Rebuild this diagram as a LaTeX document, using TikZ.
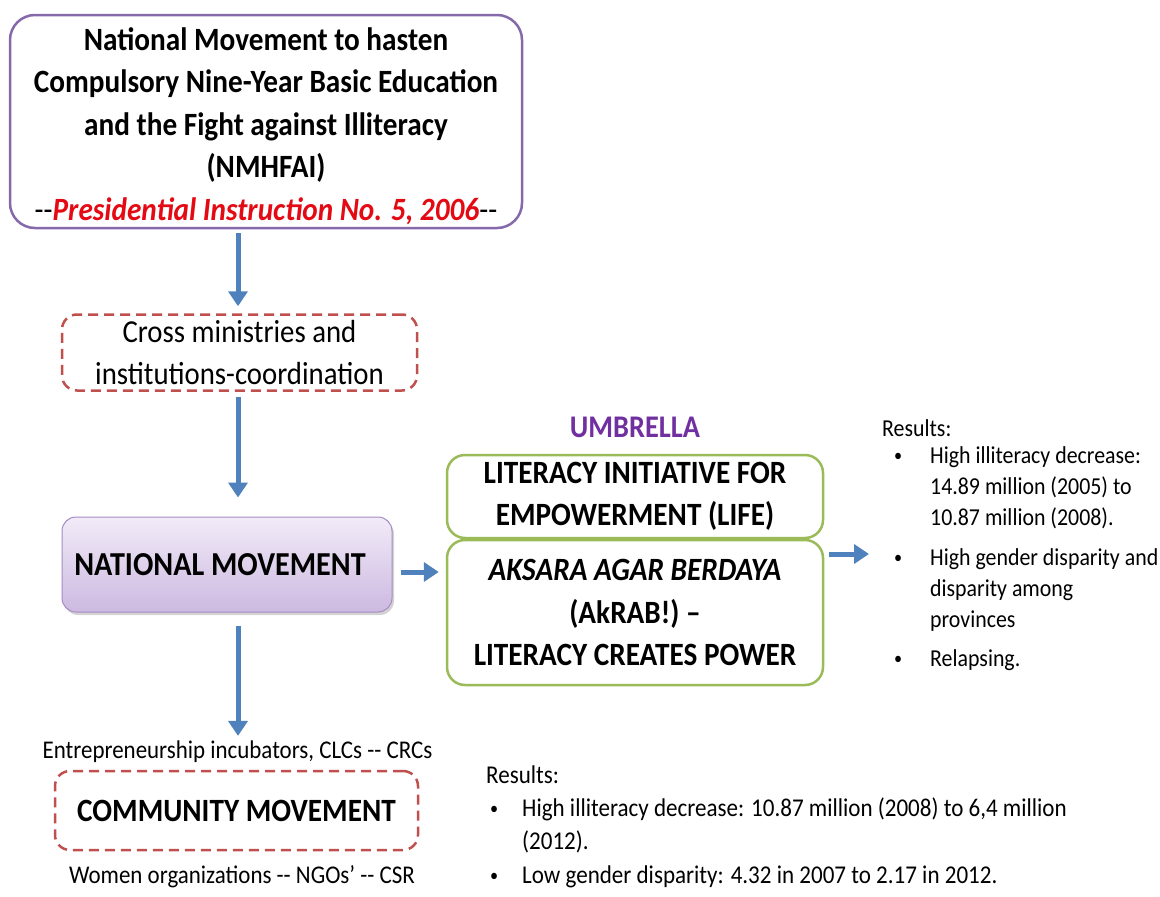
\documentclass[tikz,border=0pt]{standalone}
\usepackage{fontspec}
\setmainfont{Carlito}[FakeStretch=0.9]
\usetikzlibrary{arrows.meta,shadows}
\definecolor{boxpurple}{RGB}{133,105,170}
\definecolor{dashred}{RGB}{192,80,77}
\definecolor{boxgreen}{RGB}{155,187,89}
\definecolor{arrowblue}{RGB}{79,129,189}
\definecolor{umbpurple}{RGB}{112,48,160}
\definecolor{instred}{RGB}{228,10,20}
\definecolor{nmtop}{RGB}{242,235,248}
\definecolor{nmbot}{RGB}{204,185,224}
\definecolor{nmborder}{RGB}{165,140,195}
\newcommand{\bul}{{\fontsize{18}{18}\selectfont\raisebox{1.5pt}{\textbullet}}}
\begin{document}
\begin{tikzpicture}[x=1pt,y=1pt,
  arr/.style={draw=arrowblue, line width=5pt, -{Triangle[length=15pt,width=19pt]}},
  topbox/.style={draw=boxpurple, line width=2.5pt, rounded corners=25pt, align=center, inner sep=0pt},
  dashbox/.style={draw=dashred, line width=2.5pt, dash pattern=on 10pt off 6pt, rounded corners=15pt, align=center, inner sep=0pt},
  greenbox/.style={draw=boxgreen, line width=2.5pt, rounded corners=18pt, align=center, inner sep=0pt},
  nmbox/.style={draw=nmborder, line width=1pt, rounded corners=14pt, top color=nmtop, bottom color=nmbot,
     drop shadow={opacity=0.35, shadow xshift=2pt, shadow yshift=-3pt}, inner sep=0pt},
  big/.style={font=\fontsize{32.5}{42.5}\selectfont\bfseries},
  mid/.style={font=\fontsize{32}{42}\selectfont},
  small/.style={font=\fontsize{25.5}{30}\selectfont}
]
\useasboundingbox (0,0) rectangle (1160,-897);

% top box
\node[topbox, big, minimum width=512pt, minimum height=213pt] (top) at (266,-121.5)
  {\rule{0pt}{32pt}National Movement to hasten\\Compulsory Nine-Year Basic Education\\and the Fight against Illiteracy\\(NMHFAI)\\{\mdseries -{}-}{\color{instred}\itshape Presidential Instruction No. 5, 2006}{\mdseries -{}-}};

% cross ministries
\node[dashbox, mid, minimum width=355pt, minimum height=76pt] (cross) at (239.5,-352.5)
  {Cross ministries and\\institutions-coordination};

% national movement
\node[nmbox, font=\fontsize{33.5}{40}\selectfont\bfseries, minimum width=330pt, minimum height=95pt] (nm) at (227,-564.5) {\hspace*{-14pt}NATIONAL MOVEMENT};

% umbrella
\node[font=\fontsize{31.5}{38}\selectfont\bfseries, text=umbpurple] (umb) at (635,-427) {UMBRELLA};

% LIFE
\node[greenbox, big, minimum width=376pt, minimum height=83pt] (life) at (635,-496.5)
  {LITERACY INITIATIVE FOR\\EMPOWERMENT (LIFE)};
\node[greenbox, big, minimum width=376pt, minimum height=145pt] (akrab) at (635,-612.5)
  {\itshape AKSARA AGAR BERDAYA\\(AkRAB!) –\\LITERACY CREATES POWER};

% community
\node[small, inner sep=0pt] (ent) at (237.5,-752) {Entrepreneurship incubators, CLCs -{}- CRCs};
\node[dashbox, big, minimum width=363pt, minimum height=79pt] (comm) at (236.5,-810.5) {COMMUNITY MOVEMENT};
\node[small, inner sep=0pt] (women) at (242,-877) {Women organizations -{}- NGOs’ -{}- CSR};

% results right
\node[anchor=base west, inner sep=0pt, font=\fontsize{24.3}{31}\selectfont] (res1) at (882,-436)
  {\begin{tabular}[t]{@{\hspace{12pt}}p{36pt}@{}l@{}}
   \multicolumn{2}{@{}l@{}}{Results:}\\[-4pt]
   \bul & High illiteracy decrease:\\
    & 14.89 million (2005) to\\
    & 10.87 million (2008).\\[9pt]
   \bul & High gender disparity and\\
    & disparity among\\
    & provinces\\[8pt]
   \bul & Relapsing.
   \end{tabular}};

% results bottom
\node[anchor=base west, inner sep=0pt, font=\fontsize{25.6}{33}\selectfont] (res2) at (486,-783)
  {\begin{tabular}[t]{@{\hspace{4pt}}p{32pt}@{}l@{}}
   \multicolumn{2}{@{}l@{}}{Results:}\\
   \bul & High illiteracy decrease: 10.87 million (2008) to 6,4 million\\
    & (2012).\\[1pt]
   \bul & Low gender disparity: 4.32 in 2007 to 2.17 in 2012.
   \end{tabular}};

% arrows
\coordinate (ax) at (238,0);
\coordinate (ay) at (0,-572);
\coordinate (by) at (0,-554);
\draw[arr, shorten <=4pt, shorten >=7pt] (top.south -| ax) -- (cross.north -| ax);
\draw[arr, shorten <=5pt, shorten >=19pt] (cross.south -| ax) -- (nm.north -| ax);
\draw[arr, shorten <=13pt, shorten >=5pt] (nm.south -| ax) -- (ent.north -| ax);
\draw[arr, shorten <=8pt, shorten >=7pt] (nm.east |- ay) -- (akrab.west |- ay);
\draw[arr, shorten <=5pt, shorten >=13pt] (akrab.east |- by) -- (res1.west |- by);
\end{tikzpicture}
\end{document}
